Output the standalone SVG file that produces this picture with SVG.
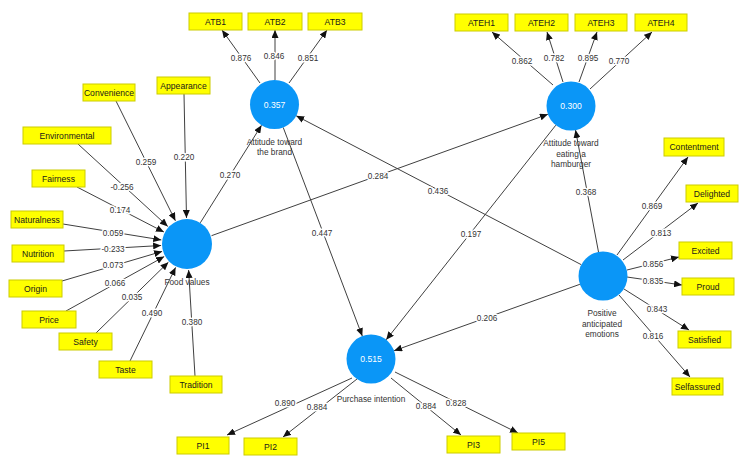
<svg xmlns="http://www.w3.org/2000/svg" width="749" height="461" viewBox="0 0 749 461">
<style>
.bg{fill:#ffffff}
.box rect{fill:#ffff00;stroke:#cccc00;stroke-width:1}
.box text{font-family:"Liberation Sans",Arial,sans-serif;font-size:8.6px;fill:#1a1a1a;text-anchor:middle}
.lv circle{fill:#0a96f7}
.lv .val{font-family:"Liberation Sans",Arial,sans-serif;font-size:8.6px;fill:#ffffff;text-anchor:middle}
.lv .name{font-family:"Liberation Sans",Arial,sans-serif;font-size:8.3px;fill:#333333;text-anchor:middle}
#connectors line{stroke:#404040;stroke-width:1;marker-end:url(#ah)}
#labels text{font-family:"Liberation Sans",Arial,sans-serif;font-size:8.2px;fill:#333333;text-anchor:middle;paint-order:stroke;stroke:#ffffff;stroke-width:3px;stroke-linejoin:round}
</style>
<defs>
<marker id="ah" markerWidth="8" markerHeight="7" refX="8" refY="3.5" orient="auto" markerUnits="userSpaceOnUse">
<path d="M0,0 L8,3.5 L0,7 z" fill="#111111"/>
</marker>
</defs>
<rect class="bg" x="0" y="0" width="749" height="461"/>

<g id="connectors">
<!-- Food values formative indicators -->
<line x1="116" y1="101" x2="175.4" y2="220.8"/>
<line x1="184" y1="94" x2="186.5" y2="218"/>
<line x1="78" y1="144" x2="167.8" y2="226.4"/>
<line x1="77" y1="187" x2="163.9" y2="232"/>
<line x1="63" y1="224" x2="161.3" y2="239.9"/>
<line x1="64" y1="251" x2="161.1" y2="245.5"/>
<line x1="62" y1="281" x2="162.1" y2="251.4"/>
<line x1="66" y1="311" x2="164.2" y2="256.6"/>
<line x1="96" y1="333" x2="168.4" y2="262.2"/>
<line x1="130" y1="361" x2="175.6" y2="267.4"/>
<line x1="195" y1="376" x2="188.6" y2="270"/>
<!-- ATB -->
<line x1="260" y1="83" x2="222" y2="30"/>
<line x1="275" y1="80" x2="275" y2="30"/>
<line x1="289" y1="83" x2="327" y2="30"/>
<!-- ATEH -->
<line x1="553" y1="85" x2="492" y2="32"/>
<line x1="563" y1="82" x2="547" y2="32"/>
<line x1="579" y1="82" x2="597" y2="32"/>
<line x1="590" y1="89" x2="652" y2="32"/>
<!-- PAE -->
<line x1="617" y1="255" x2="688" y2="157"/>
<line x1="623" y1="260" x2="698" y2="203"/>
<line x1="627" y1="270" x2="679" y2="257"/>
<line x1="627" y1="277" x2="682" y2="285"/>
<line x1="624" y1="289" x2="689" y2="330"/>
<line x1="619" y1="295" x2="690" y2="377"/>
<!-- PI -->
<line x1="352" y1="378" x2="227" y2="435"/>
<line x1="357" y1="379" x2="283" y2="437"/>
<line x1="391" y1="378" x2="461" y2="435"/>
<line x1="395" y1="372" x2="518" y2="433"/>
<!-- structural -->
<line x1="200.3" y1="222.8" x2="261.5" y2="125.3"/>
<line x1="211.5" y1="235.7" x2="547.9" y2="114.3"/>
<line x1="283.2" y1="127.4" x2="362.3" y2="336.1"/>
<line x1="555.8" y1="125.2" x2="386.2" y2="339.8"/>
<line x1="581.3" y1="264.7" x2="296.2" y2="115.8"/>
<line x1="598.5" y1="252" x2="575.5" y2="130"/>
<line x1="579.9" y1="284.3" x2="394.1" y2="350.7"/>
</g>

<g id="labels">
<text x="146" y="165">0.259</text>
<text x="184" y="160">0.220</text>
<text x="122" y="190">-0.256</text>
<text x="120" y="213">0.174</text>
<text x="113" y="236">0.059</text>
<text x="113" y="252">-0.233</text>
<text x="113" y="268">0.073</text>
<text x="115" y="286">0.066</text>
<text x="132" y="300">0.035</text>
<text x="152" y="316">0.490</text>
<text x="192" y="325">0.380</text>
<text x="241" y="61">0.876</text>
<text x="274" y="59">0.846</text>
<text x="308" y="61">0.851</text>
<text x="522" y="64">0.862</text>
<text x="554" y="61">0.782</text>
<text x="588" y="61">0.895</text>
<text x="619" y="64">0.770</text>
<text x="652" y="209">0.869</text>
<text x="661" y="236">0.813</text>
<text x="653" y="267">0.856</text>
<text x="653" y="284">0.835</text>
<text x="657" y="312">0.843</text>
<text x="653" y="339">0.816</text>
<text x="285" y="406">0.890</text>
<text x="317" y="410">0.884</text>
<text x="426" y="409">0.884</text>
<text x="456" y="406">0.828</text>
<text x="230" y="178">0.270</text>
<text x="378" y="179">0.284</text>
<text x="322" y="236">0.447</text>
<text x="471" y="237">0.197</text>
<text x="438" y="194">0.436</text>
<text x="586" y="195">0.368</text>
<text x="487" y="321">0.206</text>
</g>

<g id="food-values" class="lv"><circle cx="187" cy="244" r="25"/><text class="name" x="187" y="285">Food values</text></g>
<g id="attitude-brand" class="lv"><circle cx="274.5" cy="104.5" r="24.5"/><text class="val" x="274.5" y="107.5">0.357</text><text class="name" x="274.5" y="145">Attitude toward</text><text class="name" x="274.5" y="155">the brand</text></g>
<g id="attitude-eating" class="lv"><circle cx="571" cy="106" r="24.5"/><text class="val" x="571" y="109">0.300</text><text class="name" x="571" y="146">Attitude toward</text><text class="name" x="571" y="157">eating a</text><text class="name" x="571" y="167">hamburger</text></g>
<g id="positive-emotions" class="lv"><circle cx="603" cy="276" r="24.5"/><text class="name" x="602" y="316">Positive</text><text class="name" x="602" y="327">anticipated</text><text class="name" x="602" y="337">emotions</text></g>
<g id="purchase-intention" class="lv"><circle cx="371" cy="359" r="24.5"/><text class="val" x="371" y="362">0.515</text><text class="name" x="371" y="402">Purchase intention</text></g>

<g id="ATB1" class="box"><rect x="189" y="13" width="53" height="17"/><text x="215.5" y="24.5">ATB1</text></g>
<g id="ATB2" class="box"><rect x="248" y="13" width="54" height="17"/><text x="275" y="24.5">ATB2</text></g>
<g id="ATB3" class="box"><rect x="308" y="13" width="54" height="17"/><text x="335" y="24.5">ATB3</text></g>
<g id="ATEH1" class="box"><rect x="455" y="14" width="53" height="17"/><text x="481.5" y="25.5">ATEH1</text></g>
<g id="ATEH2" class="box"><rect x="515" y="14" width="53" height="17"/><text x="541.5" y="25.5">ATEH2</text></g>
<g id="ATEH3" class="box"><rect x="575" y="14" width="52" height="17"/><text x="601" y="25.5">ATEH3</text></g>
<g id="ATEH4" class="box"><rect x="635" y="14" width="52" height="17"/><text x="661" y="25.5">ATEH4</text></g>
<g id="Convenience" class="box"><rect x="83" y="84" width="52" height="17"/><text x="109" y="95.5">Convenience</text></g>
<g id="Appearance" class="box"><rect x="157" y="77" width="53" height="17"/><text x="183.5" y="88.5">Appearance</text></g>
<g id="Environmental" class="box"><rect x="23" y="127" width="88" height="17"/><text x="67" y="138.5">Environmental</text></g>
<g id="Fairness" class="box"><rect x="32" y="170" width="53" height="17"/><text x="58.5" y="181.5">Fairness</text></g>
<g id="Naturalness" class="box"><rect x="11" y="211" width="52" height="17"/><text x="37" y="222.5">Naturalness</text></g>
<g id="Nutrition" class="box"><rect x="12" y="245" width="52" height="17"/><text x="38" y="256.5">Nutrition</text></g>
<g id="Origin" class="box"><rect x="9" y="280" width="53" height="17"/><text x="35.5" y="291.5">Origin</text></g>
<g id="Price" class="box"><rect x="22" y="311" width="54" height="17"/><text x="49" y="322.5">Price</text></g>
<g id="Safety" class="box"><rect x="59" y="333" width="53" height="17"/><text x="85.5" y="344.5">Safety</text></g>
<g id="Taste" class="box"><rect x="99" y="361" width="53" height="17"/><text x="125.5" y="372.5">Taste</text></g>
<g id="Tradition" class="box"><rect x="170" y="376" width="52" height="17"/><text x="196" y="387.5">Tradition</text></g>
<g id="Contentment" class="box"><rect x="664" y="138" width="60" height="18"/><text x="694" y="150">Contentment</text></g>
<g id="Delighted" class="box"><rect x="686" y="185" width="52" height="17"/><text x="712" y="196.5">Delighted</text></g>
<g id="Excited" class="box"><rect x="679" y="242" width="53" height="17"/><text x="705.5" y="253.5">Excited</text></g>
<g id="Proud" class="box"><rect x="682" y="278" width="52" height="17"/><text x="708" y="289.5">Proud</text></g>
<g id="Satisfied" class="box"><rect x="678" y="331" width="53" height="17"/><text x="704.5" y="342.5">Satisfied</text></g>
<g id="Selfassured" class="box"><rect x="672" y="378" width="51" height="17"/><text x="697.5" y="389.5">Selfassured</text></g>
<g id="PI1" class="box"><rect x="177" y="437" width="52" height="17"/><text x="203" y="448.5">PI1</text></g>
<g id="PI2" class="box"><rect x="244" y="438" width="53" height="17"/><text x="270.5" y="449.5">PI2</text></g>
<g id="PI3" class="box"><rect x="447" y="436" width="53" height="17"/><text x="473.5" y="447.5">PI3</text></g>
<g id="PI5" class="box"><rect x="512" y="433" width="53" height="17"/><text x="538.5" y="444.5">PI5</text></g>
</svg>
